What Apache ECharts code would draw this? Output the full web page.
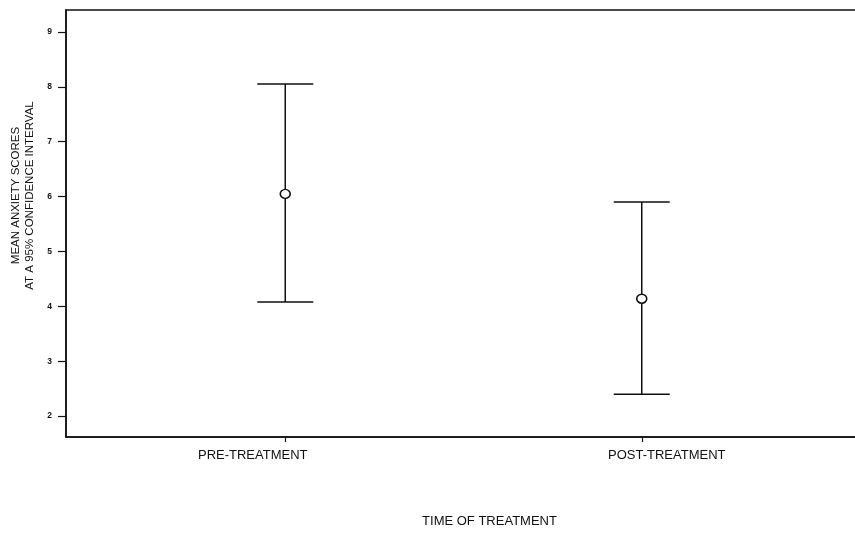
<!DOCTYPE html>
<html>
<head>
<meta charset="utf-8">
<script src="https://cdn.jsdelivr.net/npm/echarts@6/dist/echarts.min.js"></script>
<style>html,body{margin:0;padding:0;background:#fff}#c{width:855px;height:535px}</style>
</head>
<body>
<div id="c"></div>
<script>
const categories = ['PRE-TREATMENT', 'POST-TREATMENT'];
const means = [6.05, 4.14];
const lower = [4.08, 2.40];
const upper = [8.05, 5.90];
const yTicks = [2, 3, 4, 5, 6, 7, 8, 9];
const xPositions = [1, 2];

const chart = echarts.init(document.getElementById('c'));
const font = 'Liberation Sans, Arial, sans-serif';
const ink = '#111';

const barData = categories.map((c, i) => [xPositions[i], lower[i], upper[i]]);
const meanData = categories.map((c, i) => [xPositions[i], means[i]]);

// label styles: in the original the category labels sit slightly off their ticks
const labelRich = {
  l0: { color: ink, fontFamily: font, fontSize: 13, padding: [0, 65, 0, 0] },
  l1: { color: ink, fontFamily: font, fontSize: 13, padding: [0, 0, 0, 50] }
};

chart.setOption({
  animation: false,
  grid: { left: 66, right: -6, top: 10, bottom: 98, containLabel: false, outerBoundsMode: 'none', show: true, borderColor: ink, borderWidth: 1.5, backgroundColor: 'transparent' },
  xAxis: {
    type: 'value', min: 0.385, max: 2.615,
    splitLine: { show: false },
    axisLine: { show: true, lineStyle: { color: ink, width: 1.5 } },
    axisTick: { show: true, customValues: xPositions, length: 5, lineStyle: { color: ink, width: 1.2 } },
    axisLabel: {
      customValues: xPositions,
      formatter: v => { const i = Math.round(v) - 1; return categories[i] ? '{l' + i + '|' + categories[i] + '}' : ''; },
      rich: labelRich, color: ink, fontFamily: font, fontSize: 13, margin: 12
    },
    name: 'TIME OF TREATMENT', nameLocation: 'middle', nameGap: 78,
    nameTextStyle: { color: ink, fontFamily: font, fontSize: 13, padding: [0, 0, 0, 52] }
  },
  yAxis: {
    type: 'value', min: 1.62, max: 9.4,
    splitLine: { show: false },
    axisLine: { show: true, lineStyle: { color: ink, width: 1.5 } },
    axisTick: { show: true, customValues: yTicks, length: 8, lineStyle: { color: ink, width: 1.2 } },
    axisLabel: { customValues: yTicks, color: ink, fontFamily: font, fontSize: 8.5, fontWeight: 'bold', margin: 14 },
    name: 'MEAN ANXIETY SCORES\nAT A 95% CONFIDENCE INTERVAL', nameLocation: 'middle', nameGap: 25, nameRotate: 90,
    nameTextStyle: { color: ink, fontFamily: font, fontSize: 11.5, lineHeight: 14, padding: [0, 0, 0, 56] }
  },
  series: [
    {
      type: 'custom',
      data: barData,
      renderItem: function (params, api) {
        const x = api.value(0);
        const pLo = api.coord([x, api.value(1)]);
        const pHi = api.coord([x, api.value(2)]);
        const half = 28;
        const st = { stroke: ink, lineWidth: 1.5 };
        return {
          type: 'group',
          children: [
            { type: 'line', shape: { x1: pLo[0], y1: pLo[1], x2: pHi[0], y2: pHi[1] }, style: st },
            { type: 'line', shape: { x1: pHi[0] - half, y1: pHi[1], x2: pHi[0] + half, y2: pHi[1] }, style: st },
            { type: 'line', shape: { x1: pLo[0] - half, y1: pLo[1], x2: pLo[0] + half, y2: pLo[1] }, style: st }
          ]
        };
      },
      z: 2
    },
    {
      type: 'scatter',
      data: meanData,
      symbol: 'circle',
      symbolSize: [10, 9],
      itemStyle: { color: '#fff', borderColor: ink, borderWidth: 1.5, opacity: 1 },
      z: 3
    }
  ]
});
</script>
</body>
</html>
